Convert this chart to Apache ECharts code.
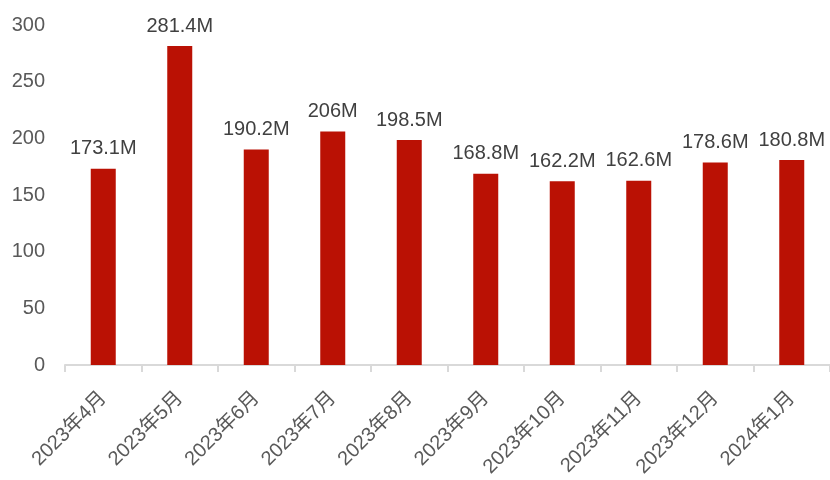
<!DOCTYPE html>
<html>
<head>
<meta charset="utf-8">
<script src="https://cdn.jsdelivr.net/npm/echarts@6/dist/echarts.min.js"></script>
<style>html,body{margin:0;padding:0;background:#fff}#c{width:830px;height:480px}</style>
</head>
<body>
<div id="c"></div>
<script>
var categories = ['2023年4月','2023年5月','2023年6月','2023年7月','2023年8月','2023年9月','2023年10月','2023年11月','2023年12月','2024年1月'];
var values = [173.1, 281.4, 190.2, 206, 198.5, 168.8, 162.2, 162.6, 178.6, 180.8];
var yTicks = [0, 50, 100, 150, 200, 250, 300];

var chart = echarts.init(document.getElementById('c'));
chart.setOption({
  animation: false,
  grid: {left: 65, top: 25, bottom: 115, right: -5, containLabel: false},
  xAxis: {
    type: 'category',
    data: categories,
    axisLine: {show: true, lineStyle: {color: '#D9D9D9', width: 2}},
    axisTick: {show: true, alignWithLabel: false, interval: 0, length: 7, lineStyle: {color: '#D9D9D9', width: 2}},
    axisLabel: {interval: 0, rotate: 45, margin: 30, fontSize: 20, color: '#595959', fontFamily: 'Liberation Sans, Arial, Noto Sans CJK SC'}
  },
  yAxis: {
    type: 'value',
    min: yTicks[0], max: yTicks[yTicks.length - 1], interval: 50,
    axisLine: {show: false},
    axisTick: {show: false},
    splitLine: {show: false},
    axisLabel: {margin: 20, fontSize: 20, color: '#595959', fontFamily: 'Liberation Sans, Arial'}
  },
  series: [{
    type: 'bar',
    data: values,
    barWidth: 25,
    itemStyle: {color: '#BA1104'},
    label: {
      show: true, position: 'top', distance: 10,
      fontSize: 20, color: '#404040', fontFamily: 'Liberation Sans, Arial',
      formatter: function (p) { return p.value + 'M'; }
    }
  }]
});
</script>
</body>
</html>
